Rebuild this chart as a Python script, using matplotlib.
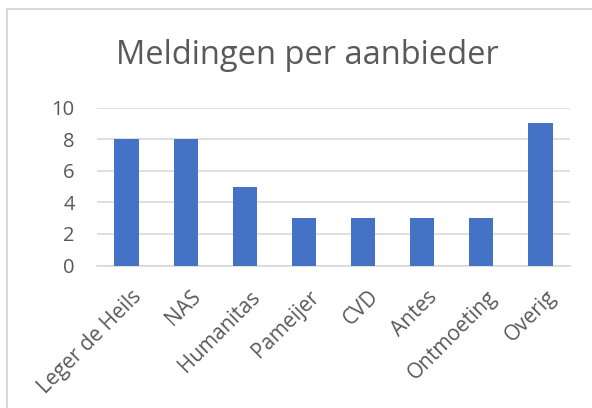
import matplotlib
matplotlib.use("Agg")
import matplotlib.pyplot as plt
from matplotlib.lines import Line2D
from matplotlib.transforms import ScaledTranslation

categories = ["Leger de Heils", "NAS", "Humanitas", "Pameijer", "CVD", "Antes", "Ontmoeting", "Overig"]
values = [8, 8, 5, 3, 3, 3, 3, 9]
yticks = [0, 2, 4, 6, 8, 10]

plt.rcParams['font.family'] = ['Open Sans', 'DejaVu Sans']
fig = plt.figure(figsize=(5.92, 4.08), dpi=100)
ax = fig.add_axes([97/592, 1 - 265.5/408, 473/592, 158/408])

x = list(range(len(categories)))
ax.bar(x, values, width=0.41, color="#4472C4", zorder=3)
ax.set_xlim(-0.5, len(categories) - 0.5)
ax.set_ylim(0, 10)
ax.set_yticks(yticks)
ax.set_yticklabels([str(t) for t in yticks], fontsize=14.5, color="#595959")
ax.set_xticks(x)
ax.set_xticklabels(categories, rotation=45, ha="right", va="top", rotation_mode="anchor",
                   fontsize=15, color="#595959")
ax.tick_params(axis="y", length=0, pad=16)
ax.tick_params(axis="x", length=0, pad=15)
off = ScaledTranslation(5/100, 0, fig.dpi_scale_trans)
for lbl in ax.get_xticklabels():
    lbl.set_transform(lbl.get_transform() + off)
ax.grid(axis="y", color="#D9D9D9", linewidth=1.2, zorder=0)
for s in ["top", "right", "left"]:
    ax.spines[s].set_visible(False)
ax.spines["bottom"].set_color("#D9D9D9")
ax.spines["bottom"].set_linewidth(1.2)

fig.text(307/592, 1 - 55/408, "Meldingen per aanbieder", ha="center", va="center",
         fontsize=23.5, color="#595959")

fig.lines.append(Line2D([7/592, 7/592, 1.0], [0.0, 1 - 9/408, 1 - 9/408], transform=fig.transFigure,
                        color="#D9D9D9", linewidth=1.5))
fig.savefig("out.png", dpi=100)
